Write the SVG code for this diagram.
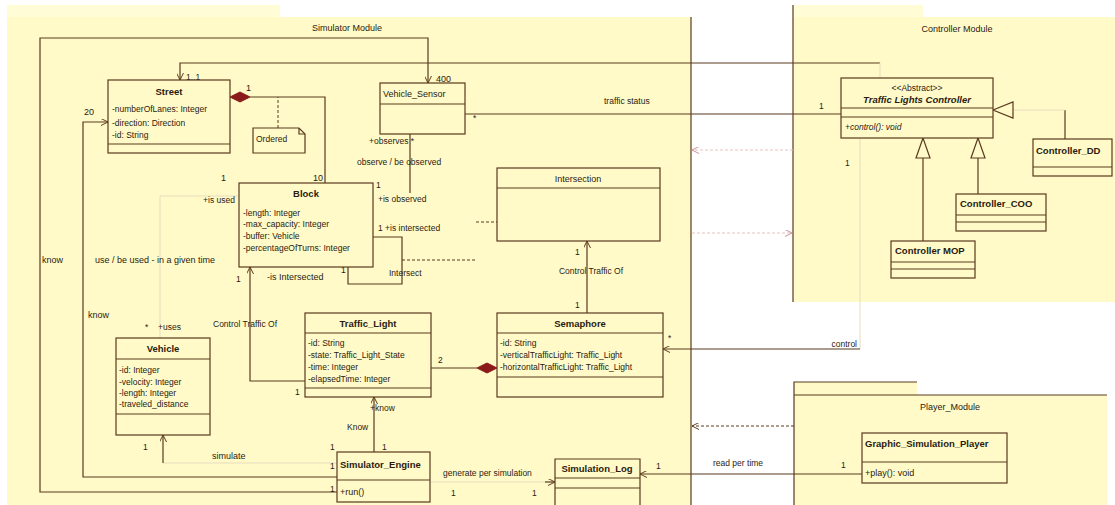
<svg xmlns="http://www.w3.org/2000/svg" width="1115" height="505" viewBox="0 0 1115 505">
<style>
text{font-family:"Liberation Sans",Arial,sans-serif;font-size:8.5px;fill:#2b1b10}
.b{font-weight:bold;font-size:9.5px}
.t{font-size:9px}
.c{text-anchor:middle}
.e{text-anchor:end}
.i{font-style:italic}
.box{fill:#fffac8;stroke:#5b3a1f;stroke-width:1.2}
.ln{fill:none;stroke:#5b3a1f;stroke-width:1.2}
.sep{stroke:#5b3a1f;stroke-width:1.2}
.faint{fill:none;stroke:#e6dcc0;stroke-width:1}
.dash{fill:none;stroke:#5b3a1f;stroke-width:1;stroke-dasharray:3 2}
.pdash{fill:none;stroke:#e8c4c4;stroke-width:1;stroke-dasharray:3 2}
.dia{fill:#8b1a1a;stroke:#8b1a1a}
.tri{fill:#fffac8;stroke:#5b3a1f;stroke-width:1.2}
</style>
<defs>
<marker id="open" viewBox="0 0 10 10" refX="10" refY="5" markerWidth="7" markerHeight="7" orient="auto-start-reverse" markerUnits="userSpaceOnUse">
<path d="M0,0 L10,5 L0,10" fill="none" stroke="#5b3a1f" stroke-width="1.4"/>
</marker>
<marker id="openp" viewBox="0 0 10 10" refX="10" refY="5" markerWidth="7" markerHeight="7" orient="auto-start-reverse" markerUnits="userSpaceOnUse">
<path d="M0,0 L10,5 L0,10" fill="none" stroke="#c89090" stroke-width="1.4"/>
</marker>
</defs>
<rect width="1115" height="505" fill="#ffffff"/>

<g id="simulator-module">
<rect x="7" y="5" width="273" height="13" fill="#fffcd6"/>
<rect x="7" y="17" width="684" height="488" fill="#fffac8"/>
<line x1="691" y1="17" x2="691" y2="505" class="sep"/>
<text x="347" y="31" class="c t">Simulator Module</text>
</g>

<g id="controller-module">
<rect x="793" y="5" width="130" height="13" fill="#fffcd6"/>
<rect x="793" y="17" width="322" height="285" fill="#fffac8"/>
<line x1="793" y1="5" x2="793" y2="302" class="sep"/>
<text x="957" y="32" class="c t">Controller Module</text>
</g>

<g id="player-module">
<rect x="794" y="382" width="123" height="13" fill="#fffac8"/>
<rect x="794" y="395" width="313" height="110" fill="#fffac8"/>
<path d="M794,505 L794,382 L917,382 M794,395 L1107,395" class="ln"/>
<text x="950" y="410" class="c t">Player_Module</text>
</g>

<g id="connectors">
<path d="M880,63 L180,63 L180,80" class="ln" marker-end="url(#open)"/>
<path d="M880,63 L880,78" class="faint"/>
<path d="M337,492 L40,492 L40,38 L428,38 L428,83" class="ln" marker-end="url(#open)"/>
<path d="M337,477 L83,477 L83,122 L108,122" class="ln" marker-end="url(#open)"/>
<path d="M325,183 L325,97 L250,97" class="ln"/>
<polygon points="230,97 240,92 250,97 240,102" class="dia"/>
<path d="M278,128 L278,97" class="dash"/>
<path d="M465,114 L841,114" class="ln"/>
<path d="M410,134 L410,193" class="ln"/>
<path d="M373,237 L402,237 L402,284 L348,284 L348,267" class="ln"/>
<path d="M402,260 L476,260 M476,222 L497,222" class="dash"/>
<path d="M587,313 L587,241" class="ln" marker-end="url(#open)"/>
<path d="M305,381 L250,381 L250,267" class="ln" marker-end="url(#open)"/>
<path d="M431,368 L477,368" class="ln"/>
<polygon points="477,368 487,363 497,368 487,373" class="dia"/>
<path d="M374,452 L374,397" class="ln" marker-end="url(#open)"/>
<path d="M337,463 L163,463" class="faint"/>
<path d="M163,463 L163,435" class="ln" marker-end="url(#open)"/>
<path d="M430,482 L545,482" class="faint"/>
<path d="M545,482 L555,482" class="ln" marker-end="url(#open)"/>
<path d="M862,474 L640,474" class="ln" marker-end="url(#open)"/>
<path d="M860,138 L860,349" class="faint"/>
<path d="M860,349 L663,349" class="ln" marker-end="url(#open)"/>
<path d="M794,426 L692,426" class="dash" marker-end="url(#open)"/>
<path d="M793,150 L692,150" class="pdash" marker-end="url(#openp)"/>
<path d="M692,233 L792,233" class="pdash" marker-end="url(#openp)"/>
<path d="M160,338 L160,196 L239,196" class="faint"/>
<path d="M1065,139 L1065,110" class="ln"/>
<path d="M1065,110 L1013,110" class="faint"/>
<polygon points="993,110 1013,102 1013,118" class="tri"/>
<path d="M923,241 L923,158" class="ln"/>
<polygon points="923,138 916,158 930,158" class="tri"/>
<path d="M978,194 L978,158" class="ln"/>
<polygon points="978,138 971,158 985,158" class="tri"/>
</g>

<g id="connector-labels">
<text x="186" y="80">1..1</text>
<text x="436" y="82" class="t">400</text>
<text x="84" y="115" class="t">20</text>
<text x="246" y="91" class="t">1</text>
<text x="313" y="181" class="t">10</text>
<text x="221" y="181" class="t">1</text>
<text x="235" y="203" class="e">+is used</text>
<text x="95" y="263" class="t">use / be used - in a given time</text>
<text x="42" y="263" class="t">know</text>
<text x="88" y="318" class="t">know</text>
<text x="145" y="330">*</text>
<text x="158" y="330">+uses</text>
<text x="143" y="450">1</text>
<text x="212" y="459" class="t">simulate</text>
<text x="330" y="450">1</text>
<text x="330" y="469">1</text>
<text x="330" y="492">1</text>
<text x="213" y="327">Control Traffic Of</text>
<text x="236" y="282">1</text>
<text x="267" y="280" class="t">-is Intersected</text>
<text x="341" y="273">1</text>
<text x="295" y="395">1</text>
<text x="369" y="144">+observes *</text>
<text x="357" y="165">observe / be observed</text>
<text x="376" y="188">1</text>
<text x="378" y="202">+is observed</text>
<text x="378" y="231">1 +is intersected</text>
<text x="389" y="276">Intersect</text>
<text x="575" y="255">1</text>
<text x="591" y="274" class="c">Control Traffic Of</text>
<text x="575" y="308">1</text>
<text x="438" y="363">2</text>
<text x="668" y="341">*</text>
<text x="857" y="347" class="e">control</text>
<text x="713" y="466">read per time</text>
<text x="841" y="468">1</text>
<text x="656" y="469">1</text>
<text x="443" y="476">generate per simulation</text>
<text x="451" y="496">1</text>
<text x="532" y="496">1</text>
<text x="347" y="430">Know</text>
<text x="370" y="411">+know</text>
<text x="382" y="450">1</text>
<text x="604" y="104">traffic status</text>
<text x="473" y="121">*</text>
<text x="819" y="109">1</text>
<text x="845" y="166">1</text>
</g>

<g id="street">
<rect x="108" y="80" width="122" height="73" class="box"/>
<line x1="108" y1="144" x2="230" y2="144" class="sep"/>
<text x="169" y="95" class="c b">Street</text>
<text x="112" y="112">-numberOfLanes: Integer</text>
<text x="112" y="126">-direction: Direction</text>
<text x="112" y="138">-id: String</text>
</g>

<g id="ordered-note">
<path d="M253,128 L299,128 L305,134 L305,153 L253,153 Z" class="box"/>
<path d="M299,128 L299,134 L305,134" class="ln"/>
<text x="256" y="142">Ordered</text>
</g>

<g id="vehicle-sensor">
<rect x="380" y="83" width="85" height="51" class="box"/>
<line x1="380" y1="104" x2="465" y2="104" class="sep"/>
<text x="383" y="97" class="t">Vehicle_Sensor</text>
</g>

<g id="block">
<rect x="239" y="183" width="134" height="84" class="box"/>
<text x="306" y="197" class="c b">Block</text>
<text x="243" y="216">-length: Integer</text>
<text x="243" y="227">-max_capacity: Integer</text>
<text x="243" y="239">-buffer: Vehicle</text>
<text x="243" y="251">-percentageOfTurns: Integer</text>
</g>

<g id="intersection">
<rect x="497" y="168" width="163" height="73" class="box"/>
<line x1="497" y1="188" x2="660" y2="188" class="sep"/>
<text x="578" y="182" class="c t">Intersection</text>
</g>

<g id="traffic-light">
<rect x="305" y="313" width="126" height="84" class="box"/>
<line x1="305" y1="333" x2="431" y2="333" class="sep"/>
<line x1="305" y1="388" x2="431" y2="388" class="sep"/>
<text x="368" y="327" class="c b">Traffic_Light</text>
<text x="308" y="346">-id: String</text>
<text x="308" y="358">-state: Traffic_Light_State</text>
<text x="308" y="370">-time: Integer</text>
<text x="308" y="382">-elapsedTime: Integer</text>
</g>

<g id="semaphore">
<rect x="497" y="313" width="166" height="84" class="box"/>
<line x1="497" y1="333" x2="663" y2="333" class="sep"/>
<line x1="497" y1="377" x2="663" y2="377" class="sep"/>
<text x="580" y="327" class="c b">Semaphore</text>
<text x="500" y="346">-id: String</text>
<text x="500" y="358">-verticalTrafficLight: Traffic_Light</text>
<text x="500" y="370">-horizontalTrafficLight: Traffic_Light</text>
</g>

<g id="vehicle">
<rect x="116" y="338" width="94" height="97" class="box"/>
<line x1="116" y1="359" x2="210" y2="359" class="sep"/>
<line x1="116" y1="414" x2="210" y2="414" class="sep"/>
<text x="163" y="352" class="c b">Vehicle</text>
<text x="119" y="373">-id: Integer</text>
<text x="119" y="385">-velocity: Integer</text>
<text x="119" y="396">-length: Integer</text>
<text x="119" y="407">-traveled_distance</text>
</g>

<g id="simulator-engine">
<rect x="337" y="452" width="93" height="50" class="box"/>
<line x1="337" y1="480" x2="430" y2="480" class="sep"/>
<text x="340" y="468" class="b">Simulator_Engine</text>
<text x="340" y="495" class="t">+run()</text>
</g>

<g id="simulation-log">
<path d="M555,505 L555,459 L640,459 L640,505" class="box"/>
<line x1="555" y1="478" x2="640" y2="478" class="sep"/>
<line x1="555" y1="488" x2="640" y2="488" class="sep"/>
<text x="597" y="472" class="c b">Simulation_Log</text>
</g>

<g id="traffic-lights-controller">
<rect x="841" y="78" width="152" height="60" class="box"/>
<line x1="841" y1="108" x2="993" y2="108" class="sep"/>
<line x1="841" y1="117" x2="993" y2="117" class="sep"/>
<text x="917" y="91" class="c">&lt;&lt;Abstract&gt;&gt;</text>
<text x="917" y="103" class="c b i">Traffic Lights Controller</text>
<text x="845" y="130" class="i">+control(): void</text>
</g>

<g id="controller-dd">
<rect x="1033" y="139" width="79" height="37" class="box"/>
<line x1="1033" y1="167" x2="1112" y2="167" class="sep"/>
<text x="1036" y="154" class="b">Controller_DD</text>
</g>

<g id="controller-coo">
<rect x="956" y="194" width="90" height="37" class="box"/>
<line x1="956" y1="215" x2="1046" y2="215" class="sep"/>
<line x1="956" y1="222" x2="1046" y2="222" class="sep"/>
<text x="960" y="207" class="b">Controller_COO</text>
</g>

<g id="controller-mop">
<rect x="891" y="241" width="84" height="37" class="box"/>
<line x1="891" y1="262" x2="975" y2="262" class="sep"/>
<line x1="891" y1="269" x2="975" y2="269" class="sep"/>
<text x="895" y="254" class="b">Controller MOP</text>
</g>

<g id="graphic-simulation-player">
<rect x="862" y="433" width="145" height="50" class="box"/>
<line x1="862" y1="462" x2="1007" y2="462" class="sep"/>
<text x="865" y="447" class="b">Graphic_Simulation_Player</text>
<text x="865" y="476" class="t">+play(): void</text>
</g>
</svg>
